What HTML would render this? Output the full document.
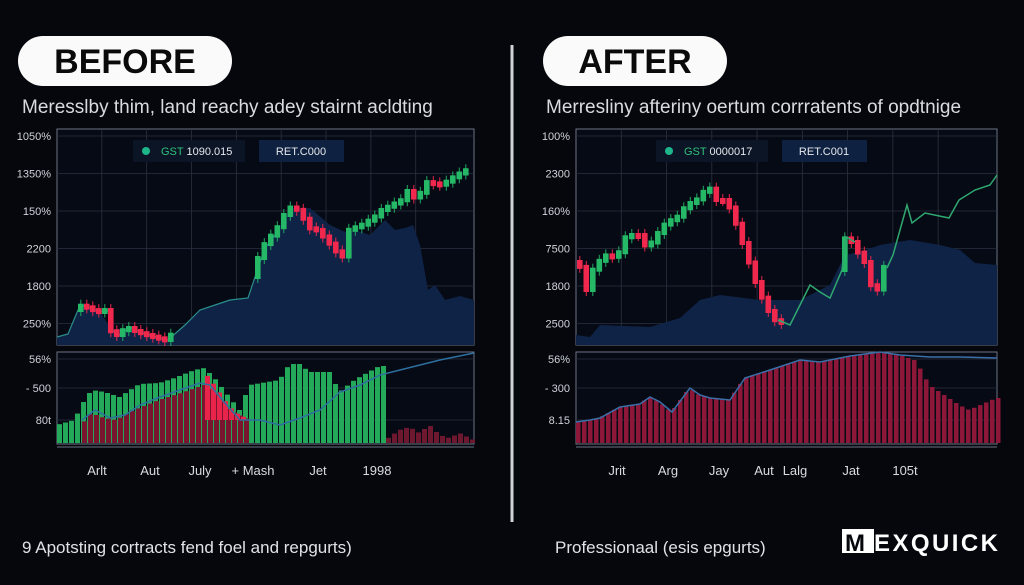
<!DOCTYPE html>
<html><head><meta charset="utf-8"><style>
html,body{margin:0;padding:0;background:#05070d;width:1024px;height:585px;overflow:hidden;font-family:"Liberation Sans",sans-serif}
svg{position:absolute;left:0;top:0}
</style></head><body>
<svg id="s" width="1024" height="585" xmlns="http://www.w3.org/2000/svg">
<rect width="1024" height="585" fill="#05070d"/>
<rect x="18" y="36" width="214" height="50" rx="25" fill="#fafafa"/>
<text x="125" y="73" font-size="34" font-weight="bold" text-anchor="middle" fill="#0a0a0a">BEFORE</text>
<rect x="543" y="36" width="184" height="50" rx="25" fill="#fafafa"/>
<text x="635" y="73" font-size="34" font-weight="bold" text-anchor="middle" fill="#0a0a0a">AFTER</text>
<text x="22" y="113" font-size="19" fill="#d8dbe0">Meresslby thim, land reachy adey stairnt acldting</text>
<text x="546" y="113" font-size="19" fill="#d8dbe0">Merresliny afteriny oertum corrratents of opdtnige</text>
<line x1="512" y1="45" x2="512" y2="522" stroke="#cfd2d8" stroke-width="3"/>
<g id="g"></g>
<text x="22" y="553" font-size="17" fill="#e0e2e6">9 Apotsting cortracts fend foel and repgurts)</text>
<text x="555" y="553" font-size="17" fill="#e0e2e6">Professionaal (esis epgurts)</text>
<rect x="842" y="529" width="32" height="24" fill="#fff"/>
<text x="845" y="551" font-size="24" font-weight="bold" fill="#05070d">M</text>
<text x="874" y="551" font-size="24" font-weight="bold" fill="#fff" textLength="124">EXQUICK</text>
</svg>
<script>
const g=document.getElementById('g');let h='';
function interp(pts,x){for(let i=0;i<pts.length-1;i++){if(x>=pts[i][0]&&x<=pts[i+1][0]){const t=(x-pts[i][0])/(pts[i+1][0]-pts[i][0]);return pts[i][1]+t*(pts[i+1][1]-pts[i][1]);}}return pts[pts.length-1][1];}
function panel(x0,x1,ylabs,lowlabs,xlabs,leg1,leg2,lx){
 h+=`<rect x="${x0}" y="129" width="${x1-x0}" height="216" fill="#060a14" stroke="#6b7384" stroke-width="1"/>`;
 h+=`<rect x="${x0}" y="352" width="${x1-x0}" height="92" fill="#060a14" stroke="#6b7384" stroke-width="1"/>`;
 for(let i=0;i<6;i++){const y=136+i*37.5;h+=`<line x1="${x0}" y1="${y}" x2="${x1}" y2="${y}" stroke="#2a3140" stroke-width="0.8"/><text x="${x0-6}" y="${y+4}" font-size="11" fill="#cfd3da" text-anchor="end">${ylabs[i]}</text>`;}
 for(let i=1;i<9;i++){const x=x0+i*(x1-x0)/9.3;h+=`<line x1="${x}" y1="129" x2="${x}" y2="345" stroke="#2a3140" stroke-width="0.8"/>`;}
 [359,388,420].forEach((y,i)=>{h+=`<line x1="${x0}" y1="${y}" x2="${x1}" y2="${y}" stroke="#2a3140" stroke-width="0.8"/><text x="${x0-6}" y="${y+4}" font-size="11" fill="#cfd3da" text-anchor="end">${lowlabs[i]}</text>`;});
 h+=`<line x1="${x0}" y1="447" x2="${x1}" y2="447" stroke="#6b7384"/>`;
 xlabs.forEach(([t,x])=>{h+=`<text x="${x}" y="475" font-size="13" fill="#d8dbe0" text-anchor="middle">${t}</text>`;});
 h+=`<rect x="${lx}" y="140" width="112" height="22" fill="#0b1526"/><circle cx="${lx+13}" cy="151" r="4" fill="#1fb58a"/><text x="${lx+28}" y="155" font-size="11" fill="#2fc07a">GST <tspan fill="#e6e8ec">${leg1}</tspan></text>`;
 h+=`<rect x="${lx+126}" y="140" width="85" height="22" fill="#0e2140"/><text x="${lx+168}" y="155" font-size="11" fill="#e6e8ec" text-anchor="middle">${leg2}</text>`;
}
function area(pts,x0,x1){let d=`M${x0},345 `+pts.map(p=>`L${p[0]},${p[1]}`).join(' ')+` L${x1},345Z`;h+=`<path d="${d}" fill="#0f2347"/>`;}
function line(pts,c,w){h+=`<polyline points="${pts.map(p=>p.join(',')).join(' ')}" fill="none" stroke="${c}" stroke-width="${w}"/>`;}
function candles(pts,a,b,step){let prev=interp(pts,a);for(let x=a;x<=b;x+=step){const y=interp(pts,x+step);const up=y<prev;const top=Math.min(y,prev)-2,bot=Math.max(y,prev)+2;
 h+=`<line x1="${x+2.8}" y1="${top-4}" x2="${x+2.8}" y2="${bot+4}" stroke="${up?'#1fa860':'#e8244a'}"/><rect x="${x}" y="${top}" width="5.6" height="${Math.max(6,bot-top)}" fill="${up?'#25b866':'#f0284e'}"/>`;prev=y;}}
function bars(x0,x1,pts,col,base=443,w=5){for(let x=x0;x<x1;x+=6){const y=interp(pts,x+3);h+=`<rect x="${x}" y="${y}" width="${w}" height="${base-y}" fill="${col}"/>`;}}
// LEFT
panel(57,474,['1050%','1350%','150%','2200','1800','250%'],['56%','- 500','80t'],[['Arlt',97],['Aut',150],['July',200],['+ Mash',253],['Jet',318],['1998',377]],'1090.015','RET.C000',133);
const L=[[57,337],[68,334],[78,310],[85,305],[100,312],[108,310],[112,330],[120,335],[130,327],[140,332],[150,335],[168,340],[185,325],[200,310],[215,305],[230,300],[248,298],[258,268],[265,248],[275,235],[285,222],[290,208],[298,207],[305,215],[312,228],[320,230],[330,240],[340,252],[348,258],[352,230],[365,225],[378,217],[385,210],[395,205],[405,200],[410,190],[420,200],[430,182],[445,185],[460,175],[474,168]];
area([[57,337],[68,334],[78,310],[85,305],[100,312],[112,330],[130,327],[150,335],[168,340],[185,325],[200,310],[215,305],[230,300],[248,298],[258,268],[265,248],[275,235],[290,208],[310,208],[330,225],[345,232],[355,230],[370,235],[385,220],[395,230],[405,228],[413,225],[420,245],[428,290],[435,285],[445,300],[460,296],[474,300]],57,474);
line(L.slice(0,20),'#2a8f8a',1.2);
candles(L,78,170,6);candles(L,255,466,6.5);
bars(57,386,[[57,425],[75,420],[82,405],[92,390],[105,392],[120,397],[140,384],[160,383],[175,378],[195,370],[205,368],[215,378],[240,410],[250,385],[280,380],[290,364],[300,364],[310,372],[330,372],[340,392],[355,380],[380,366],[386,366]],'#24a95a');
bars(82,250,[[82,425],[92,413],[105,418],[117,420],[135,410],[160,400],[185,392],[205,385],[215,392],[230,410],[250,420]],'#7a1530');
bars(205,250,[[205,372],[215,385],[225,400],[235,412],[250,420]],'#e8244a',420,5);
bars(386,474,[[386,440],[400,430],[410,427],[420,433],[430,425],[440,435],[450,438],[460,433],[474,440]],'#6e1830');
line([[82,420],[95,410],[110,418],[125,415],[140,405],[160,397],[180,390],[200,383],[210,385],[225,403],[240,420],[260,420],[280,425],[300,418],[320,410],[340,392],[360,385],[380,375],[400,370],[440,360],[474,353]],'#2d6fa0',1.5);
// RIGHT
panel(576,997,['100%','2300','160%','7500','1800','2500'],['56%','- 300','8.15'],[['Jrit',617],['Arg',668],['Jay',719],['Aut',764],['Lalg',795],['Jat',851],['105t',905]],'0000017','RET.C001',656);
area([[576,335],[590,337],[600,325],[650,327],[680,318],[700,300],[720,295],[760,300],[800,300],[830,285],[845,255],[860,252],[880,245],[910,240],[940,245],[960,250],[975,263],[997,265]],576,997);
const R=[[577,262],[585,268],[590,290],[598,265],[610,255],[620,258],[630,235],[645,235],[650,250],[660,235],[670,222],[680,218],[690,205],[700,200],[712,186],[720,200],[730,200],[740,225],[750,255],[760,285],[770,308],[778,320],[790,325],[800,305],[810,285],[820,292],[830,298],[842,270],[846,237],[855,242],[863,255],[868,262],[875,287],[882,290],[887,268],[893,255],[900,230],[907,205],[912,223],[925,213],[949,218],[959,200],[975,190],[990,185],[997,175]];
candles(R,577,782,6.5);candles(R,842,886,6.5);
line(R.slice(21,30),'#2fa870',1.5);line(R.slice(34),'#2fa870',1.5);
const RT=[[576,422],[590,420],[600,418],[620,407],[640,404],[650,397],[660,402],[672,412],[690,388],[700,395],[710,398],[730,400],[745,378],[770,370],[800,360],[820,362],[850,356],[880,352],[900,355],[915,360],[922,370],[930,385],[945,395],[960,405],[970,410],[997,398]];
bars(576,997,RT,'#8c1738',443,4.5);
line(RT.slice(0,19).concat([[930,357],[960,357],[997,358]]),'#3b6fa8',1.5);
g.innerHTML=h;
</script>
</body></html>
